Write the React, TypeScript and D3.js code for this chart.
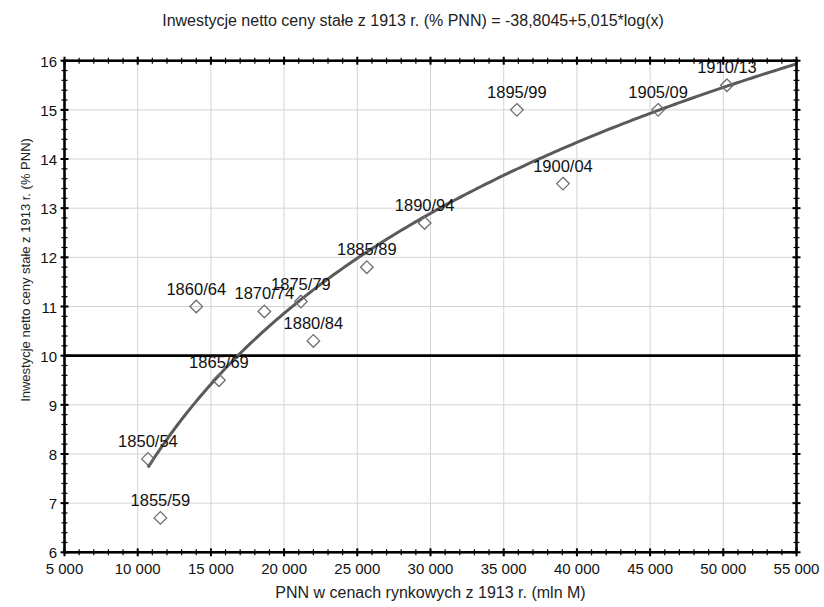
import * as d3 from "d3";

// okresy (etykiety punktów)
const periods = [
  "1850/54", "1855/59", "1860/64", "1865/69", "1870/74", "1875/79", "1880/84",
  "1885/89", "1890/94", "1895/99", "1900/04", "1905/09", "1910/13",
];
// PNN w cenach rynkowych z 1913 r. (mln M)
const pnn = [10700, 11550, 14000, 15550, 18650, 21150, 22000, 25650, 29600, 35900, 39050, 45550, 50250];
// inwestycje netto, ceny stałe z 1913 r. (% PNN)
const invest = [7.9, 6.7, 11.0, 9.5, 10.9, 11.1, 10.3, 11.8, 12.7, 15.0, 13.5, 15.0, 15.5];

const xTicks = [5000, 10000, 15000, 20000, 25000, 30000, 35000, 40000, 45000, 50000, 55000];
const yTicks = [6, 7, 8, 9, 10, 11, 12, 13, 14, 15, 16];

// dopasowanie: y = a + b*log(x)
const fitA = -38.8045;
const fitB = 5.015;
const refLevel = 10;

const W = 824;
const H = 607;
const FONT = "'Liberation Sans', Arial, sans-serif";

export default function App() {
  const x = d3.scaleLinear().domain([5000, 55000]).range([64.5, 796.5]);
  const y = d3.scaleLinear().domain([6, 16]).range([552.3, 60.7]);
  const fmt = d3.formatLocale({ decimal: ",", thousands: " ", grouping: [3], currency: ["", ""] }).format(",");

  const xMinor = d3.range(5000, 55001, 1000);
  const yMinor = d3.range(6, 16.001, 0.2);

  const fitX = d3.range(d3.min(pnn)!, 55001, 250);
  const fitLine = d3.line<number>()
    .x(d => x(d))
    .y(d => y(fitA + fitB * Math.log(d)))(fitX);

  const [x0, x1] = x.range();
  const [y0, y1] = y.range();
  const diamond = (cx: number, cy: number, r = 6.3) =>
    `M${cx},${cy - r}L${cx + r},${cy}L${cx},${cy + r}L${cx - r},${cy}Z`;

  return (
    <div style={{ position: "absolute", left: 0, top: 0 }}>
      <svg width={W} height={H} style={{ display: "block", background: "#fff", fontFamily: FONT }}>
        <text x={413} y={26} textAnchor="middle" fontSize={16} fill="#222">
          Inwestycje netto ceny stałe z 1913 r. (% PNN) = -38,8045+5,015*log(x)
        </text>

        {/* siatka */}
        {xTicks.map(t => (
          <line key={"gx" + t} x1={x(t)} x2={x(t)} y1={y1} y2={y0} stroke="#d4d4d4" strokeWidth={1} />
        ))}
        {yTicks.map(t => (
          <line key={"gy" + t} x1={x0} x2={x1} y1={y(t)} y2={y(t)} stroke="#d4d4d4" strokeWidth={1} />
        ))}

        {/* linia odniesienia */}
        <line x1={x0} x2={x1} y1={y(refLevel)} y2={y(refLevel)} stroke="#000" strokeWidth={2.6} />

        {/* krzywa dopasowania */}
        <path d={fitLine ?? ""} fill="none" stroke="#5a5a5a" strokeWidth={3} />

        {/* punkty */}
        {pnn.map((v, i) => (
          <g key={periods[i]}>
            <path d={diamond(x(v), y(invest[i]))} fill="none" stroke="#6e6e6e" strokeWidth={1.3} />
            <text x={x(v)} y={y(invest[i]) - 12} textAnchor="middle" fontSize={16.5} fill="#111">
              {periods[i]}
            </text>
          </g>
        ))}

        {/* ramka i podziałki */}
        <rect x={x0} y={y1} width={x1 - x0} height={y0 - y1} fill="none" stroke="#000" strokeWidth={2.6} />
        {xMinor.map(t => (
          <g key={"mx" + t} stroke="#000" strokeWidth={1.2}>
            <line x1={x(t)} x2={x(t)} y1={y0 - 3} y2={y0 + 3} />
            <line x1={x(t)} x2={x(t)} y1={y1 - 3} y2={y1 + 3} />
          </g>
        ))}
        {xTicks.map(t => (
          <g key={"tx" + t} stroke="#000" strokeWidth={2}>
            <line x1={x(t)} x2={x(t)} y1={y0 - 4} y2={y0 + 4} />
            <line x1={x(t)} x2={x(t)} y1={y1 - 4} y2={y1 + 4} />
          </g>
        ))}
        {yMinor.map(t => (
          <g key={"my" + t.toFixed(1)} stroke="#000" strokeWidth={1.2}>
            <line x1={x0 - 3} x2={x0 + 3} y1={y(t)} y2={y(t)} />
            <line x1={x1 - 3} x2={x1 + 3} y1={y(t)} y2={y(t)} />
          </g>
        ))}
        {yTicks.map(t => (
          <g key={"ty" + t} stroke="#000" strokeWidth={2}>
            <line x1={x0 - 4} x2={x0 + 4} y1={y(t)} y2={y(t)} />
            <line x1={x1 - 4} x2={x1 + 4} y1={y(t)} y2={y(t)} />
          </g>
        ))}

        {/* etykiety osi */}
        {xTicks.map(t => (
          <text key={"lx" + t} x={x(t)} y={574} textAnchor="middle" fontSize={15} fill="#111">
            {fmt(t)}
          </text>
        ))}
        {yTicks.map(t => (
          <text key={"ly" + t} x={57} y={y(t) + 6} textAnchor="end" fontSize={15} fill="#111">
            {t}
          </text>
        ))}

        <text x={430.5} y={598} textAnchor="middle" fontSize={16} fill="#222">
          PNN w cenach rynkowych z 1913 r. (mln M)
        </text>
        <text transform="translate(30,270) rotate(-90)" textAnchor="middle" fontSize={13} fill="#222">
          Inwestycje netto ceny stałe z 1913 r. (% PNN)
        </text>
      </svg>
    </div>
  );
}
